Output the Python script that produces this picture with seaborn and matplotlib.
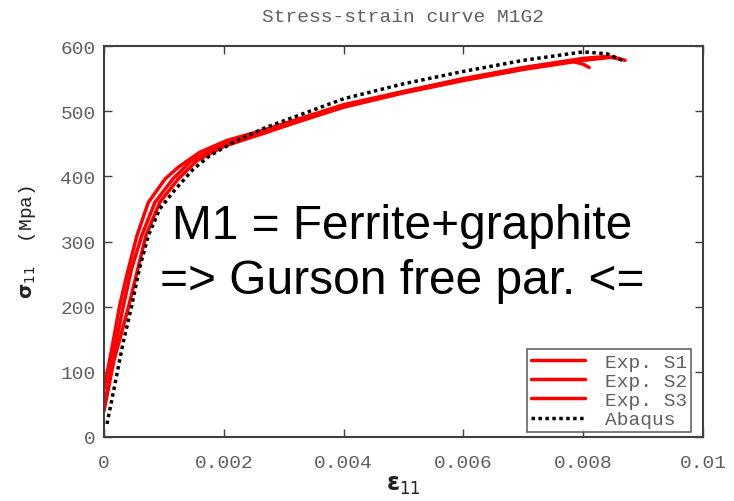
import numpy as np
import pandas as pd
import matplotlib
matplotlib.use("Agg")
import matplotlib.pyplot as plt
import seaborn as sns

# ---- data (strain, stress in MPa) ----
s1_x = [0, 0.00013, 0.00026, 0.00038, 0.00055, 0.00074, 0.00102, 0.00124, 0.0016, 0.00205, 0.0027, 0.004, 0.005, 0.006, 0.007, 0.0078, 0.0080, 0.0081]
s1_y = [74, 135, 201, 248, 309, 360, 396, 414, 437, 455, 472, 510, 530, 549, 565, 577, 572, 567]

s2_x = [0, 0.00018, 0.00032, 0.00046, 0.00063, 0.00085, 0.00115, 0.00146, 0.002, 0.0027, 0.004, 0.005, 0.006, 0.007, 0.008, 0.0085, 0.0087]
s2_y = [45, 135, 200, 258, 309, 360, 396, 424, 450, 468, 506, 528, 547, 564, 578, 583, 578]

s3_x = [0, 0.00016, 0.00041, 0.0007, 0.00093, 0.00124, 0.00155, 0.002, 0.0027, 0.004, 0.005, 0.006, 0.007, 0.008, 0.0084, 0.0086]
s3_y = [40, 115, 200, 309, 360, 396, 424, 446, 467, 508, 530, 550, 567, 581, 584, 580]

ab_x = [0.00005, 0.000167, 0.00032, 0.00046, 0.00059, 0.00074, 0.00093, 0.00119, 0.00149, 0.00177, 0.00216, 0.0027, 0.004, 0.005, 0.006, 0.007, 0.008, 0.0084, 0.0087]
ab_y = [20, 74, 145, 200, 258, 309, 350, 380, 411, 432, 452, 475, 519, 542, 561, 578, 591, 588, 576]

series_names = ["Exp. S1", "Exp. S2", "Exp. S3", "Abaqus"]
xticks = [0, 0.002, 0.004, 0.006, 0.008, 0.01]
xtick_labels = ["0", "0.002", "0.004", "0.006", "0.008", "0.01"]
yticks = [0, 100, 200, 300, 400, 500, 600]

df = pd.concat([
    pd.DataFrame({"strain": s1_x, "stress": s1_y, "series": series_names[0]}),
    pd.DataFrame({"strain": s2_x, "stress": s2_y, "series": series_names[1]}),
    pd.DataFrame({"strain": s3_x, "stress": s3_y, "series": series_names[2]}),
    pd.DataFrame({"strain": ab_x, "stress": ab_y, "series": series_names[3]}),
], ignore_index=True)

sns.set_theme(style="ticks")
plt.rcParams["font.family"] = ["Liberation Mono", "DejaVu Sans Mono"]
plt.rcParams["mathtext.fontset"] = "custom"
plt.rcParams["mathtext.rm"] = "DejaVu Sans"
plt.rcParams["mathtext.it"] = "DejaVu Sans"
plt.rcParams["mathtext.bf"] = "DejaVu Sans:bold"

fig = plt.figure(figsize=(7.34, 5.02), dpi=100)
ax = fig.add_axes([104/734, 64/502, 599/734, 391/502])

styles = {
    "Exp. S1": dict(color="#ff0000", lw=2.5, ls="-"),
    "Exp. S2": dict(color="#ff0000", lw=2.5, ls="-"),
    "Exp. S3": dict(color="#ff0000", lw=2.5, ls="-"),
    "Abaqus": dict(color="black", lw=2.5, ls=(0, (1, 1))),
}
for name in series_names:
    st = styles[name]
    sns.lineplot(data=df[df["series"] == name], x="strain", y="stress", ax=ax,
                 sort=False, estimator=None, color=st["color"], lw=st["lw"],
                 linestyle=st["ls"], label=name)

ax.set_xlim(0, 0.01)
ax.set_ylim(0, 600)
ax.set_xticks(xticks)
ax.set_xticklabels(xtick_labels)
ax.set_yticks(yticks)

grey = "#606060"
ax.tick_params(direction="in", length=6, width=1, colors="#404040",
               labelcolor=grey, labelsize=14, top=True, right=True)
ax.tick_params(axis="x", pad=12)
ax.tick_params(axis="y", pad=6)
for sp in ax.spines.values():
    sp.set_color("#404040")
    sp.set_linewidth(1.5)

ax.set_title("Stress-strain curve M1G2", fontsize=14, color=grey, pad=18)
ax.set_xlabel(r"$\mathbf{\varepsilon}_{\mathrm{11}}$", fontsize=17, color="#222222", labelpad=2)
ax.set_ylabel(r"$\mathbf{\sigma}_{\mathrm{11}}$  (Mpa)", fontsize=14, color="#222222", labelpad=16)

leg = ax.legend(loc="lower right", bbox_to_anchor=(0.98, 0.012), fontsize=14,
                frameon=True, fancybox=False, handlelength=2.8, labelspacing=0.08,
                borderpad=0.2, handletextpad=1.0, borderaxespad=0.0)
leg.get_frame().set_edgecolor("#404040")
leg.get_frame().set_linewidth(1.2)
for t in leg.get_texts():
    t.set_color(grey)

ax.text(0.4975, 0.47, "M1 = Ferrite+graphite\n=> Gurson free par. <=",
        transform=ax.transAxes, ha="center", va="center", fontsize=34.5,
        family="Liberation Sans", color="black", linespacing=1.28)

fig.savefig("out.png", dpi=100)
